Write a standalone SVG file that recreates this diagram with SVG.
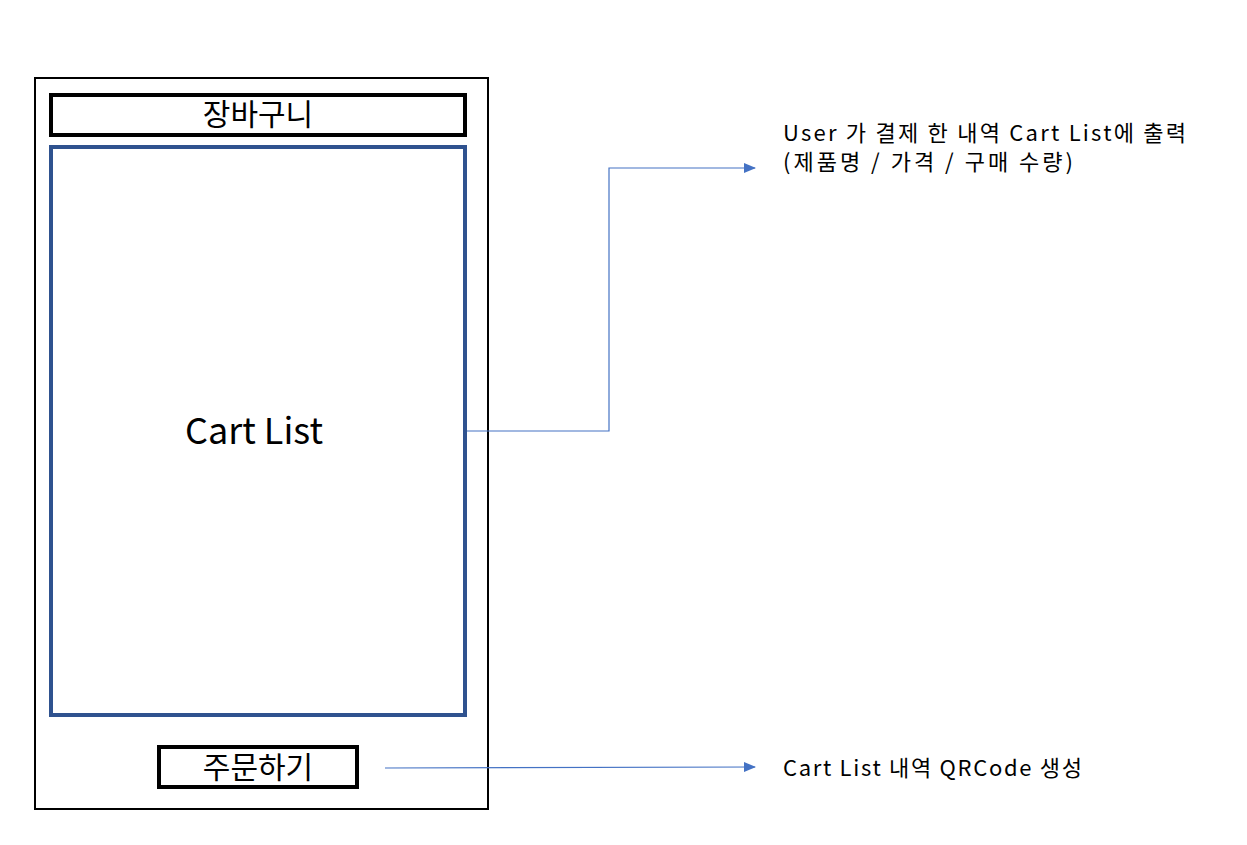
<svg xmlns="http://www.w3.org/2000/svg" width="1247" height="845" viewBox="0 0 1247 845">
<defs>
<style>
text{font-family:"Noto Sans CJK KR","Noto Sans",sans-serif;fill:#000}
.box{fill:#fff;stroke:#000;stroke-width:4}
.conn{fill:none;stroke:#4472C4;stroke-width:1.2}
.lbl{font-size:22px}
</style>
<marker id="arr" markerWidth="12" markerHeight="10" refX="11" refY="5" orient="auto" markerUnits="userSpaceOnUse">
<path d="M0,0 L12,5 L0,10 Z" fill="#4472C4"/>
</marker>
</defs>
<rect width="1247" height="845" fill="#fff"/>
<g id="phone"><rect x="35" y="78" width="453" height="731" fill="#fff" stroke="#000" stroke-width="2"/></g>
<g id="title"><rect class="box" x="51" y="95" width="414" height="40"/><text x="258" y="125" font-size="30" text-anchor="middle">장바구니</text></g>
<g id="cartlist"><rect x="51" y="147" width="414" height="568" fill="#fff" stroke="#2F528F" stroke-width="4"/><text x="254" y="444" font-size="36" text-anchor="middle">Cart List</text></g>
<g id="order"><rect class="box" x="159" y="747" width="198" height="40"/><text x="258" y="778" font-size="30" text-anchor="middle">주문하기</text></g>
<g id="connectors">
<polyline class="conn" points="467,431 609,431 609,168 755,168" marker-end="url(#arr)"/>
<line class="conn" x1="385" y1="768" x2="755" y2="767" marker-end="url(#arr)"/>
</g>
<g id="note1"><text class="lbl" x="783" y="141" textLength="403" lengthAdjust="spacing">User 가 결제 한 내역 Cart List에 출력</text><text class="lbl" x="783" y="170" textLength="290" lengthAdjust="spacing">(제품명 / 가격 / 구매 수량)</text></g>
<g id="note2"><text class="lbl" x="783" y="776" textLength="299" lengthAdjust="spacing">Cart List 내역 QRCode 생성</text></g>
</svg>
